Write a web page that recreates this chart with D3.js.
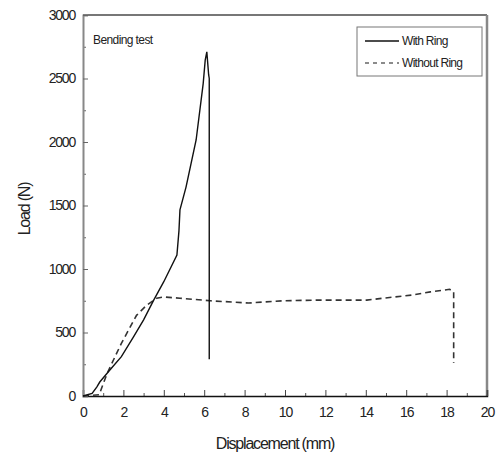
<!DOCTYPE html>
<html>
<head>
<meta charset="utf-8">
<script src="https://cdn.jsdelivr.net/npm/d3@7"></script>
<style>
  body { margin: 0; background: #fff; }
  text { font-family: "Liberation Sans", Arial, sans-serif; fill: #222; }
</style>
</head>
<body>
<div id="chart"></div>
<script>
// With Ring (solid)
const ringX = [0, 0.45, 0.68, 0.83, 1.33, 1.9, 2.5, 3.0, 3.5, 4.0, 4.65, 4.75, 4.8, 5.1, 5.6, 5.95, 6.05, 6.13, 6.22, 6.25, 6.25];
const ringY = [0, 20, 70, 110, 205, 310, 465, 600, 755, 900, 1110, 1300, 1465, 1645, 2016, 2460, 2645, 2710, 2530, 2500, 290];
// Without Ring (dashed)
const noRingX = [0, 0.8, 1.2, 1.9, 2.65, 3.15, 3.65, 4.0, 4.8, 6.3, 8.2, 9.9, 11.6, 14.05, 14.85, 16.3, 17.2, 18.15, 18.35, 18.35];
const noRingY = [0, 10, 180, 415, 635, 715, 770, 780, 770, 750, 732, 750, 755, 755, 770, 795, 820, 840, 820, 260];

const xTicks = [0, 2, 4, 6, 8, 10, 12, 14, 16, 18, 20];
const yTicks = [0, 500, 1000, 1500, 2000, 2500, 3000];
const seriesNames = ["With Ring", "Without Ring"];

const margin = { top: 15, right: 13, bottom: 62, left: 83 };
const W = 500, H = 458;
const width = W - margin.left - margin.right;
const height = H - margin.top - margin.bottom;

const svg = d3.select("#chart").append("svg")
  .attr("width", W).attr("height", H);
const g = svg.append("g").attr("transform", `translate(${margin.left},${margin.top})`);

const x = d3.scaleLinear().domain([0, 20]).range([0, width]);
const y = d3.scaleLinear().domain([0, 3000]).range([height, 0]);

// frame: top & right
g.append("line").attr("x1", 0).attr("x2", width).attr("y1", 0).attr("y2", 0)
  .attr("stroke", "#777").attr("stroke-width", 2);
g.append("line").attr("x1", width).attr("x2", width).attr("y1", 0).attr("y2", height)
  .attr("stroke", "#888").attr("stroke-width", 2.5);

// minor ticks
g.append("g").attr("transform", `translate(0,${height})`)
  .call(d3.axisBottom(x).tickValues(d3.range(1, 20, 2)).tickSize(-3).tickFormat(""))
  .call(a => a.select(".domain").remove())
  .call(a => a.selectAll("line").attr("stroke", "#555"));
g.append("g")
  .call(d3.axisLeft(y).tickValues(d3.range(250, 3000, 500)).tickSize(-3).tickFormat(""))
  .call(a => a.select(".domain").remove())
  .call(a => a.selectAll("line").attr("stroke", "#666"));

// major axes
const xAxis = g.append("g").attr("transform", `translate(0,${height})`)
  .call(d3.axisBottom(x).tickValues(xTicks).tickSize(-6).tickPadding(11).tickFormat(d3.format("d")));
xAxis.select(".domain").attr("stroke", "#111").attr("stroke-width", 1.5);
xAxis.selectAll("line").attr("stroke", "#444");
xAxis.selectAll("text").attr("font-size", 14).attr("fill", "#333").attr("letter-spacing", "-1");

const yAxis = g.append("g")
  .call(d3.axisLeft(y).tickValues(yTicks).tickSize(-5).tickPadding(8).tickFormat(d3.format("d")));
yAxis.select(".domain").attr("stroke", "#888").attr("stroke-width", 2);
yAxis.selectAll("line").attr("stroke", "#666");
yAxis.selectAll("text").attr("font-size", 14).attr("fill", "#333").attr("letter-spacing", "-1.2");

// lines
const line = d3.line().x(d => x(d[0])).y(d => y(d[1]));
const ringData = ringX.map((v, i) => [v, ringY[i]]);
const noRingData = noRingX.map((v, i) => [v, noRingY[i]]);

g.append("path").datum(noRingData).attr("d", line)
  .attr("fill", "none").attr("stroke", "#333").attr("stroke-width", 1.6)
  .attr("stroke-dasharray", "6,4");
g.append("path").datum(ringData).attr("d", line)
  .attr("fill", "none").attr("stroke", "#111").attr("stroke-width", 1.4);

// annotation
g.append("text").attr("x", 10).attr("y", 29).attr("font-size", 12)
  .attr("letter-spacing", "-0.6").text("Bending test");

// legend
const lg = svg.append("g").attr("transform", "translate(357,27)");
lg.append("rect").attr("width", 125).attr("height", 49)
  .attr("fill", "#fff").attr("stroke", "#777").attr("stroke-width", 1);
seriesNames.forEach((name, i) => {
  const yy = 14 + i * 22;
  lg.append("line").attr("x1", 8).attr("x2", 42).attr("y1", yy).attr("y2", yy)
    .attr("stroke", i === 0 ? "#111" : "#666").attr("stroke-width", i === 0 ? 1.3 : 1.6)
    .attr("stroke-dasharray", i === 0 ? null : "4,4");
  lg.append("text").attr("x", 45).attr("y", yy + 4).attr("font-size", 12)
    .attr("letter-spacing", "-0.7").text(name);
});

// axis titles
svg.append("text").attr("x", 275).attr("y", 449)
  .attr("text-anchor", "middle").attr("font-size", 16).attr("letter-spacing", "-1.2")
  .text("Displacement (mm)");
svg.append("text").attr("transform", "translate(30,209) rotate(-90)")
  .attr("text-anchor", "middle").attr("font-size", 16).attr("letter-spacing", "-1.2")
  .text("Load (N)");
</script>
</body>
</html>
